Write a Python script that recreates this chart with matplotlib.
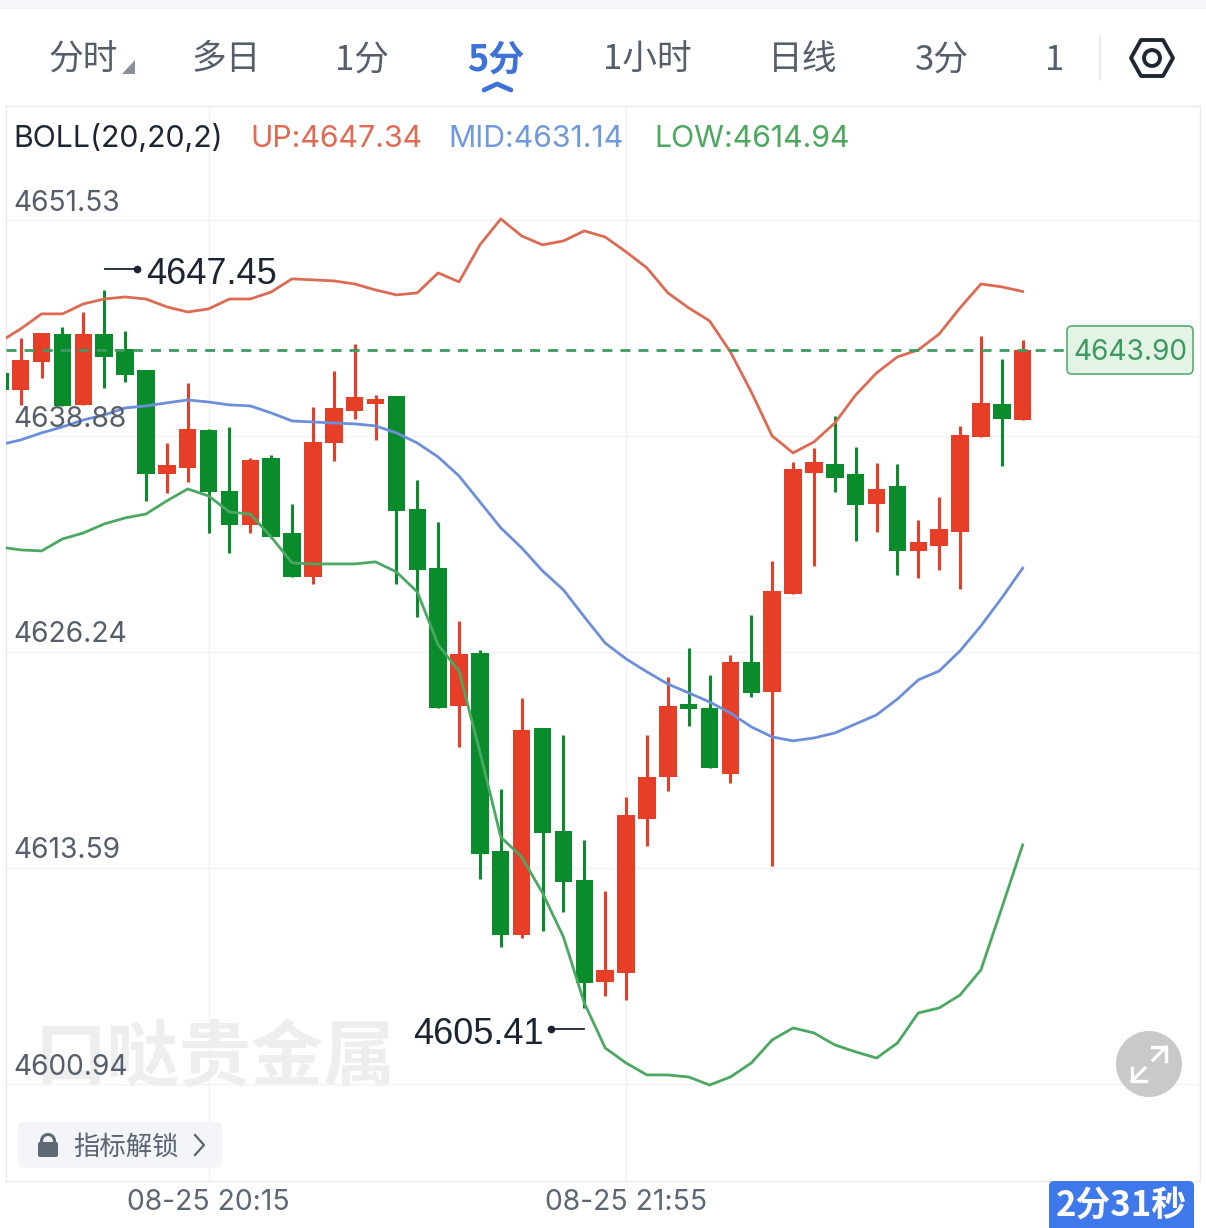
import matplotlib
matplotlib.use("Agg")
import matplotlib.pyplot as plt
from matplotlib.patches import FancyBboxPatch, Circle, Polygon, Rectangle

W, H = 1206, 1228
CJK = ['Noto Sans CJK SC', 'DejaVu Sans']
NUM = ['Inter', 'Noto Sans CJK SC']
BIG = ['Liberation Sans', 'Noto Sans CJK SC']

# Candle data: high, body top, body bottom, low, and direction (1 up / 0 down)
highs = [4642.58,4644.63,4644.92,4645.26,4646.14,4647.45,4645.03,4642.75,4638.47,4641.99,
         4639.29,4639.41,4637.59,4637.77,4634.90,4640.58,4642.69,4644.27,4641.28,4641.23,
         4636.31,4633.85,4628.05,4626.35,4618.21,4623.54,4621.79,4621.38,4615.23,4612.24,
         4617.75,4621.38,4624.77,4626.47,4624.89,4626.06,4628.40,4631.56,4637.36,4638.18,
         4640.05,4638.24,4637.30,4637.24,4633.96,4635.31,4639.47,4644.74,4643.39,4644.50]
tops  = [4642.58,4643.33,4644.92,4644.85,4644.85,4644.85,4643.98,4642.75,4637.18,4639.29,
         4639.23,4635.66,4637.48,4637.59,4633.20,4638.53,4640.52,4641.17,4641.05,4641.23,
         4634.61,4631.15,4626.12,4626.18,4614.58,4621.67,4621.79,4615.76,4612.89,4607.62,
         4616.69,4618.92,4623.07,4623.19,4622.96,4625.65,4625.65,4629.81,4636.95,4637.36,
         4637.24,4636.66,4635.78,4635.96,4632.68,4633.44,4638.94,4640.81,4640.76,4643.90]
bots  = [4641.58,4641.58,4643.22,4640.64,4640.70,4643.51,4642.46,4636.66,4636.66,4637.01,
         4635.60,4633.67,4633.67,4632.97,4630.63,4630.63,4638.47,4640.35,4640.76,4634.49,
         4631.04,4622.96,4623.07,4614.41,4609.67,4609.67,4615.64,4612.77,4606.86,4606.92,
         4607.44,4616.46,4618.92,4622.90,4619.45,4619.09,4623.84,4623.89,4629.63,4636.72,
         4636.42,4634.84,4634.90,4632.15,4632.15,4632.44,4633.26,4638.83,4639.88,4639.82]
lows  = [4641.58,4640.70,4642.28,4640.64,4640.70,4641.69,4642.05,4635.08,4635.55,4636.19,
         4633.20,4632.03,4633.20,4632.91,4630.63,4630.22,4637.42,4639.88,4638.65,4630.22,
         4628.29,4622.96,4620.67,4612.95,4608.96,4609.49,4609.90,4611.01,4605.41,4606.09,
         4605.86,4614.88,4618.10,4621.90,4619.45,4618.57,4623.60,4613.71,4629.63,4631.27,
         4635.60,4632.73,4633.26,4630.74,4630.57,4631.04,4629.92,4638.83,4637.13,4639.82]
rising = [0,1,1,0,1,0,0,0,1,1,0,0,1,0,0,1,1,1,1,0,0,0,1,0,0,1,0,0,0,1,
          1,1,1,0,0,1,0,1,1,1,0,0,1,0,1,1,1,1,0,1]

boll_up = [4644.39,4645.15,4646.03,4646.03,4646.61,4646.90,4647.02,4646.90,4646.44,4646.14,
           4646.32,4646.90,4646.90,4647.31,4648.08,4648.02,4647.96,4647.78,4647.43,4647.14,
           4647.26,4648.43,4647.90,4650.07,4651.59,4650.59,4650.07,4650.30,4650.89,4650.53,
           4649.66,4648.72,4647.26,4646.38,4645.62,4643.80,4641.46,4638.88,4637.89,4638.53,
           4639.64,4641.28,4642.57,4643.51,4643.92,4644.85,4646.38,4647.78,4647.61,4647.34]
boll_mid = [4638.36,4638.65,4639.06,4639.41,4639.82,4640.11,4640.52,4640.64,4640.82,4640.99,
            4640.87,4640.70,4640.64,4640.23,4639.76,4639.70,4639.64,4639.59,4639.47,4639.06,
            4638.47,4637.65,4636.54,4635.02,4633.50,4632.33,4630.98,4629.87,4628.29,4626.76,
            4625.83,4625.07,4624.36,4623.84,4623.31,4622.66,4621.85,4621.26,4621.03,4621.20,
            4621.49,4622.02,4622.55,4623.48,4624.60,4625.12,4626.30,4627.76,4629.40,4631.14]
boll_low = [4632.38,4632.21,4632.15,4632.85,4633.20,4633.73,4634.08,4634.31,4635.08,4635.78,
            4635.37,4634.43,4634.31,4632.97,4631.45,4631.39,4631.39,4631.39,4631.51,4630.92,
            4629.75,4626.65,4625.12,4620.38,4615.40,4614.23,4612.12,4609.55,4605.69,4603.05,
            4602.17,4601.47,4601.47,4601.35,4600.88,4601.35,4602.17,4603.52,4604.22,4603.93,
            4603.23,4602.82,4602.46,4603.34,4605.10,4605.39,4606.15,4607.62,4611.25,4614.94]

y_ticks = [4651.53, 4638.88, 4626.24, 4613.59, 4600.94]
y_tick_labels = ['4651.53', '4638.88', '4626.24', '4613.59', '4600.94']
x_ticks = [10.0, 30.0]
x_tick_labels = ['08-25 20:15', '08-25 21:55']
last_price = 4643.90
tabs = ['分时', '多日', '1分', '5分', '1小时', '日线', '3分', '1']

RED, GREEN = '#e63e27', '#0b8c2c'

fig = plt.figure(figsize=(W/100, H/100), dpi=100, facecolor='white')

# main chart axes: 6..1200 px wide, 106..1181 px tall
ax = fig.add_axes([6/W, 1-1181/H, (1200-6)/W, (1181-106)/H])
STEP = 20.875
X0 = -0.2
ax.set_xlim((6-X0)/STEP, (1200-X0)/STEP)
ax.set_ylim(4595.26, 4658.20)
for s in ax.spines.values():
    s.set_color('#e8e9ec'); s.set_linewidth(1.0)
ax.set_xticks(x_ticks); ax.set_yticks(y_ticks)
ax.set_xticklabels([]); ax.set_yticklabels([])
ax.tick_params(length=0)
ax.grid(True, color='#f1f2f4', linewidth=1.0)
ax.set_axisbelow(True)

idx = list(range(len(highs)))
for i in idx:
    c = RED if rising[i] else GREEN
    ax.plot([i, i], [lows[i], highs[i]], color=c, lw=2.2, solid_capstyle='butt', zorder=2)
    ax.bar(i, tops[i]-bots[i], bottom=bots[i], width=17.4/STEP, color=c, linewidth=0, zorder=3)

ax.plot(idx, boll_up, color='#dd6b54', lw=2.0, zorder=4, solid_joinstyle='round')
ax.plot(idx, boll_mid, color='#6c8fdc', lw=2.0, zorder=4, solid_joinstyle='round')
ax.plot(idx, boll_low, color='#4ba862', lw=2.0, zorder=4, solid_joinstyle='round')

ax.plot([ax.get_xlim()[0], (1065-X0)/STEP], [last_price, last_price], color='#3f9a62',
        lw=2.0, dashes=(3.6, 2.9), zorder=5)

# overlay axes in pixel units for the app chrome
ov = fig.add_axes([0, 0, 1, 1], facecolor='none')
ov.set_xlim(0, W); ov.set_ylim(H, 0); ov.axis('off')

ov.add_patch(Rectangle((0, 0), W, 9, color='#f5f6fa', lw=0))

# watermark
ov.text(215, 1060, '口哒贵金属', family=CJK, fontsize=52, fontweight='bold', color='#eeeeee',
        ha='center', va='center', zorder=1)

# y tick labels
for v, l in zip(y_ticks, y_tick_labels):
    py = (4664.411 - v)/0.05855
    ov.text(13, py-17, l, family=NUM, fontsize=20.3, color='#565e6c', va='center', ha='left', zorder=6)

# x tick labels
for v, l in zip(x_ticks, x_tick_labels):
    ov.text(X0 + v*STEP, 1203, l, family=NUM, fontsize=20.4, color='#5d6675', ha='center', va='center')

# tabs
tab_x = [83, 226, 362, 496, 647, 803, 942, 1055]
for t, x in zip(tabs, tab_x):
    act = t == '5分'
    ov.text(x, 60, t, family=CJK, fontsize=26 if act else 25, color='#3f72d8' if act else '#565e6c',
            fontweight='bold' if act else 'normal', ha='center', va='center')
ov.add_patch(Polygon([(135, 60), (135, 74), (122, 74)], color='#8a8f98', lw=0))
ov.plot([484, 497, 511], [90, 84, 90], color='#3f72d8', lw=3.4, solid_capstyle='round')
ov.plot([1100, 1100], [36, 80], color='#e8e9ec', lw=1.2)
ov.add_patch(Polygon([(1131, 58), (1141, 40), (1163, 40), (1173, 58), (1163, 76), (1141, 76)],
                     fill=False, ec='#1f2733', lw=2.8, joinstyle='round'))
ov.add_patch(Circle((1152, 58), 8, fill=False, ec='#1f2733', lw=2.8))

# BOLL legend
for txt, x, c in [('BOLL(20,20,2)', 13, '#1e2533'), ('UP:4647.34', 250, '#e06a52'),
                  ('MID:4631.14', 448, '#6f99dd'), ('LOW:4614.94', 654, '#4ca85f')]:
    ov.text(x, 139, txt, family=NUM, fontsize=21.8, color=c, va='center', ha='left')

# extreme labels
ov.text(146, 275, '4647.45', family=BIG, fontsize=26, color='#1c2333', va='center', ha='left')
ov.plot([105, 137], [269, 269], color='#1c2333', lw=1.3)
ov.plot([137], [269], 'o', color='#1c2333', ms=4.5)
ov.text(413, 1035, '4605.41', family=BIG, fontsize=26, color='#1c2333', va='center', ha='left')
ov.plot([551, 584], [1029, 1029], color='#1c2333', lw=1.3)
ov.plot([551], [1029], 'o', color='#1c2333', ms=4.5)

# last price tag
ov.add_patch(FancyBboxPatch((1071, 330), 118, 40, boxstyle='round,pad=4,rounding_size=5',
                            fc='#e3f4e7', ec='#58ab72', lw=1.2, zorder=6))
ov.text(1130, 352, '4643.90', family=NUM, fontsize=20.2, color='#3c9a5f', ha='center', va='center', zorder=7)

# lock button
ov.add_patch(FancyBboxPatch((24, 1128), 192, 34, boxstyle='round,pad=6,rounding_size=6',
                            fc='#f3f5f8', ec='none', zorder=6))
ov.add_patch(FancyBboxPatch((38, 1142), 20, 15, boxstyle='round,pad=0,rounding_size=2',
                            fc='#5f6875', ec='none', zorder=7))
ov.add_patch(Circle((48, 1141), 6.5, fill=False, ec='#5f6875', lw=2.2, zorder=7))
ov.text(73, 1147, '指标解锁', family=CJK, fontsize=19, color='#5b6472', va='center', ha='left', zorder=7)
ov.plot([195, 204, 195], [1135, 1145, 1155], color='#5b6472', lw=1.6, zorder=7)

# expand button
ov.add_patch(Circle((1149, 1064), 33, fc='#c9c9c9', ec='none', zorder=6))
ov.plot([1132, 1145], [1081, 1068], color='white', lw=2.4, zorder=7)
ov.plot([1132, 1132, 1146], [1068, 1081, 1081], color='white', lw=2.4, zorder=7)
ov.plot([1153, 1166], [1060, 1047], color='white', lw=2.4, zorder=7)
ov.plot([1152, 1166, 1166], [1047, 1047, 1061], color='white', lw=2.4, zorder=7)

# countdown
ov.add_patch(FancyBboxPatch((1053, 1185), 137, 47, boxstyle='round,pad=4,rounding_size=5',
                            fc='#3f78ea', ec='none', zorder=6))
ov.text(1121, 1205, '2分31秒', family=CJK, fontsize=25, fontweight='bold', color='white',
        ha='center', va='center', zorder=7)

fig.savefig('out.png', dpi=100)
